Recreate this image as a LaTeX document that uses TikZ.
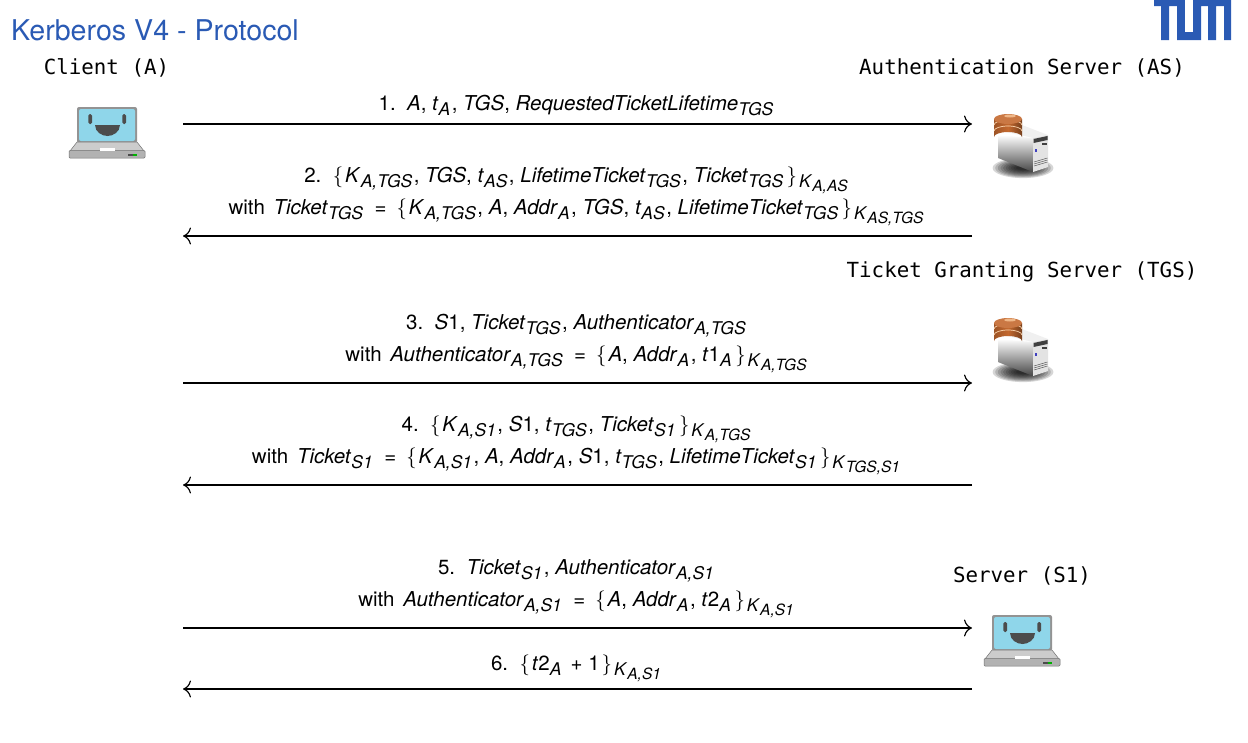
\documentclass[tikz,border=0pt]{standalone}
\usepackage{fontspec}
\setmainfont{TeX Gyre Heros}
\setmonofont{DejaVu Sans Mono}
\usetikzlibrary{arrows,arrows.meta}
\definecolor{tumblue}{HTML}{2A5AB4}
\definecolor{screenblue}{HTML}{8FD6EA}
\definecolor{rust}{HTML}{C4692F}
\newcommand{\sbt}[2]{\textit{#1}\raisebox{-5pt}{\fontsize{17.5}{17}\selectfont\textit{#2}}\hspace{1.5pt}}
\newcommand{\keyed}[1]{\raisebox{-5pt}{\fontsize{17.5}{17}\selectfont\textit{K}\raisebox{-4pt}{\fontsize{15.5}{15}\selectfont\textit{#1}}}}
\newcommand{\lb}{$\{$\hspace{2pt}}
\newcommand{\rb}{\hspace{2pt}$\}$\hspace{2pt}}
\newcommand{\eq}{\hspace{10pt}=\hspace{10pt}}
\newcommand{\wth}{with\hspace{3pt}\ }
\tikzset{
	msg/.style={anchor=base, font=\fontsize{20.5}{24}\selectfont, inner sep=0pt},
	party/.style={anchor=base, font=\fontsize{20.8}{24}\ttfamily, inner sep=0pt},
	flow/.style={-{To[length=8pt,width=17pt]}, line width=1.15pt},
	laptoppic/.pic={
		\fill[rounded corners=2pt, fill=gray!85!white] (-30,-25) rectangle (30,11);
		\fill[rounded corners=2pt, fill=screenblue] (-28,-23) rectangle (28,9);
		\fill[fill=gray!40!white, draw=gray!90!black, line width=.5pt] (-30,10) -- (30,10) -- (37,19) -- (-37,19) -- cycle;
		\fill[fill=gray!60!white, draw=gray!90!black, line width=.5pt, rounded corners=1pt] (-38,18.5) rectangle (38,26);
		\fill[white] (-7,16) rectangle (8,19);
		\fill[black!70] (21,22) rectangle (26,24);
		\fill[green!70!black] (26,22) rectangle (30,24);
		\fill[black!70, rounded corners=1.5pt] (-18.7,-18) rectangle (-15,-8);
		\fill[black!70, rounded corners=1.5pt] (15.3,-18) rectangle (19,-8);
		\fill[black!70] (-12,-7) -- (13,-7) .. controls (13,0) and (6,4) .. (0.5,4) .. controls (-5,4) and (-12,0) .. (-12,-7) -- cycle;
	},
	serverpic/.pic={
		\foreach \k in {1,...,10}
			\fill[black, opacity=.16] (0,22) ellipse ({33-2.6*\k} and {11-.9*\k});
		\shade[top color=white, bottom color=gray!55!black] (-25,-11) -- (10,-8) -- (10,26) -- (-25,12) -- cycle;
		\fill[gray!12] (-1,-21) -- (25,-11) -- (10,-8) -- (-25,-16) -- cycle;
		\fill[gray!22] (10,-8) -- (25,-11) -- (25,21) -- (10,26) -- cycle;
		\fill[black!75] (10.5,-7) -- (24.5,-10) -- (24.5,-6) -- (10.5,-3) -- cycle;
		\fill[black!75] (19,-3) rectangle (24,-1);
		\fill[blue!50!gray] (12,3) rectangle (14,6);
		\foreach \k in {0,2,4}
			\draw[gray!70!black, line width=.5pt] (11,{20-\k}) -- (24.5,{16-\k});
		\shade[left color=rust!80!black, right color=rust!60!black, middle color=rust] (-29,-27) -- (-29,-9) arc[x radius=14, y radius=5, start angle=180, end angle=360] -- (-1,-27) -- cycle;
		\foreach \k in {-21,-15}
			\draw[orange!30!white, line width=.7pt] (-29,\k) arc[x radius=14, y radius=5, start angle=180, end angle=360];
		\fill[rust!90!white] (-15,-27) ellipse (14 and 5);
		\fill[orange!35!white, opacity=.7] (-13,-30) ellipse (6 and 1.5);
	}
}
\begin{document}
\begin{tikzpicture}[x=1pt, y=-1pt]
	\useasboundingbox (0,0) rectangle (1248,742);
	% title and logo
	\node[anchor=base west, inner sep=0pt, text=tumblue, font=\fontsize{28.6}{32}\selectfont] (title) at (11,40) {Kerberos V4 - Protocol};
	\fill[tumblue] (1154,0) -- (1231,0) -- (1231,40) -- (1224,40) -- (1224,6) -- (1216,6) -- (1216,40) -- (1208,40) -- (1208,6) -- (1201,6) -- (1201,40) -- (1177,40) -- (1177,6) -- (1169,6) -- (1169,40) -- (1161,40) -- (1161,6) -- (1154,6) -- cycle;
	\fill[white] (1185,0) rectangle (1193,32);

	% parties
	\node[party] (client) at (106.5,74) {Client (A)};
	\node[party] (as) at (1022,74) {Authentication Server (AS)};
	\node[party] (tgs) at (1022,277) {Ticket Granting Server (TGS)};
	\node[party] (server) at (1022,582) {Server (S1)};
	\pic at (107,132) {laptoppic};
	\pic at (1022,640) {laptoppic};
	\pic at (1023,146) {serverpic};
	\pic at (1023,350) {serverpic};

	% message ends
	\coordinate (a1) at (183,124); \coordinate (b1) at (972,124);
	\coordinate (a2) at (183,236); \coordinate (b2) at (972,236);
	\coordinate (a3) at (183,383); \coordinate (b3) at (972,383);
	\coordinate (a4) at (183,485); \coordinate (b4) at (972,485);
	\coordinate (a5) at (183,628); \coordinate (b5) at (972,628);
	\coordinate (a6) at (183,689); \coordinate (b6) at (972,689);
	\draw[flow] (a1) -- (b1);
	\draw[flow] (b2) -- (a2);
	\draw[flow] (a3) -- (b3);
	\draw[flow] (b4) -- (a4);
	\draw[flow] (a5) -- (b5);
	\draw[flow] (b6) -- (a6);

	% messages
	\node[msg] (m1) at (576,110) {1.\ \ \textit{A}, \sbt{t}{A}, \textit{TGS}, \sbt{RequestedTicketLifetime}{TGS}};
	\node[msg] (m2) at (576,182) {2.\ \ \lb\sbt{K}{A,TGS}, \textit{TGS}, \sbt{t}{AS}, \sbt{LifetimeTicket}{TGS}, \sbt{Ticket}{TGS}\rb\keyed{A,AS}};
	\node[msg] (m2b) at (576,214) {\wth\sbt{Ticket}{TGS}\eq\lb\sbt{K}{A,TGS}, \textit{A}, \sbt{Addr}{A}, \textit{TGS}, \sbt{t}{AS}, \sbt{LifetimeTicket}{TGS}\rb\keyed{AS,TGS}};
	\node[msg] (m3) at (576,329) {3.\ \ \textit{S}1, \sbt{Ticket}{TGS}, \sbt{Authenticator}{A,TGS}};
	\node[msg] (m3b) at (576,361) {\wth\sbt{Authenticator}{A,TGS}\eq\lb\textit{A}, \sbt{Addr}{A}, \sbt{\textit{t}\textup{1}}{A}\rb\keyed{A,TGS}};
	\node[msg] (m4) at (576,431) {4.\ \ \lb\sbt{K}{A,S1}, \textit{S}1, \sbt{t}{TGS}, \sbt{Ticket}{S1}\rb\keyed{A,TGS}};
	\node[msg] (m4b) at (576,463) {\wth\sbt{Ticket}{S1}\eq\lb\sbt{K}{A,S1}, \textit{A}, \sbt{Addr}{A}, \textit{S}1, \sbt{t}{TGS}, \sbt{LifetimeTicket}{S1}\rb\keyed{TGS,S1}};
	\node[msg] (m5) at (576,574) {5.\ \ \sbt{Ticket}{S1}, \sbt{Authenticator}{A,S1}};
	\node[msg] (m5b) at (576,606) {\wth\sbt{Authenticator}{A,S1}\eq\lb\textit{A}, \sbt{Addr}{A}, \sbt{\textit{t}\textup{2}}{A}\rb\keyed{A,S1}};
	\node[msg] (m6) at (576,670) {6.\ \ \lb\sbt{\textit{t}\textup{2}}{A}\hspace{2pt} + 1\rb\keyed{A,S1}};
\end{tikzpicture}
\end{document}
